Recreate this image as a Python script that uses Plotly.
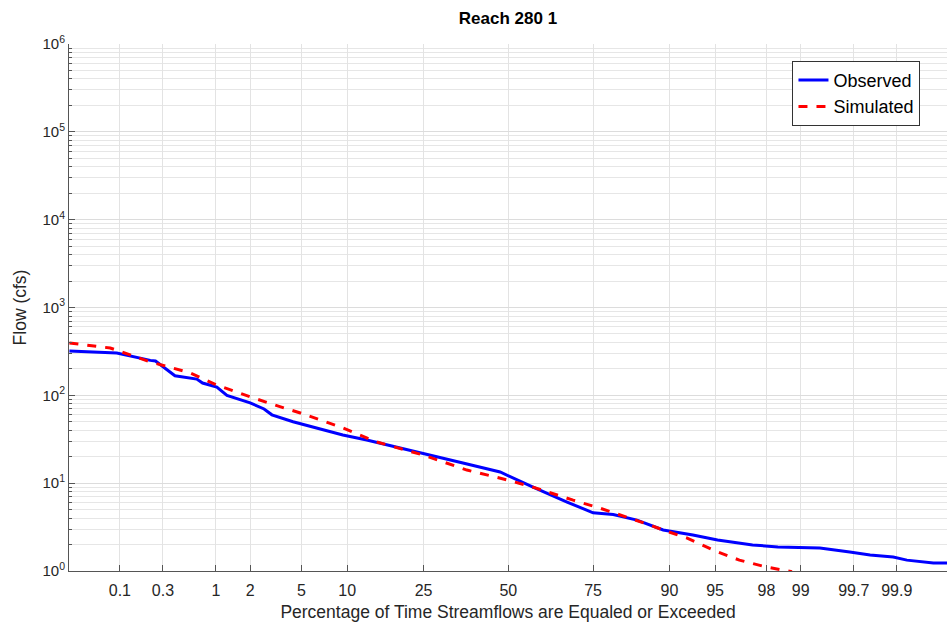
import plotly.graph_objects as go
from statistics import NormalDist

nd = NormalDist()

# Observed flow-duration curve (percent exceedance, flow cfs)
obs_pct = [0.024, 0.092, 0.22, 0.25, 0.40, 0.66, 0.75, 1.02, 1.26, 2.0, 2.6, 3.0, 4.34, 6.7,
           9.4, 13.0, 24.8, 35.9, 47.4, 57.8, 68.0, 75.0, 79.8, 84.7, 89.1, 92.9, 95.2,
           97.4, 98.4, 99.34, 99.67, 99.80, 99.89, 99.924, 99.964, 99.976]
obs_flow = [320, 303, 250, 246, 167, 153, 138, 124, 100, 82, 70, 60, 50, 41.5,
            35.3, 31, 22, 17, 13.4, 9.0, 6.1, 4.6, 4.4, 3.8, 2.93, 2.57, 2.25,
            1.98, 1.88, 1.83, 1.65, 1.52, 1.44, 1.33, 1.23, 1.23]

# Simulated flow-duration curve
sim_pct = [0.024, 0.077, 0.22, 0.57, 1.02, 2.0, 3.7, 4.9, 9.4, 14.8, 24.8, 37.1, 49.6,
           57.8, 69.7, 76.7, 87.0, 89.1, 92.2, 95.2, 96.7, 98.0, 98.8]
sim_flow = [394, 346, 240, 180, 131, 96, 72, 63, 42.5, 29.4, 21, 14.1, 10.9,
            9.0, 6.4, 5.2, 3.34, 2.93, 2.38, 1.65, 1.33, 1.11, 0.98]

x_tick_pct = [0.1, 0.3, 1, 2, 5, 10, 25, 50, 75, 90, 95, 98, 99, 99.7, 99.9]
x_tick_text = ["0.1", "0.3", "1", "2", "5", "10", "25", "50", "75", "90", "95", "98", "99", "99.7", "99.9"]

y_major = [1, 10, 100, 1000, 10000, 100000, 1000000]
y_major_text = ["10<sup>%d</sup>" % i for i in range(7)]
y_minor = [m * 10 ** k for k in range(6) for m in range(2, 10)]


def z(p):
    return nd.inv_cdf(p / 100.0)


fig = go.Figure()
fig.add_trace(go.Scatter(x=[z(p) for p in obs_pct], y=obs_flow, mode="lines", name="Observed",
                         line=dict(color="#0000ff", width=3)))
fig.add_trace(go.Scatter(x=[z(p) for p in sim_pct], y=sim_flow, mode="lines", name="Simulated",
                         line=dict(color="#ff0000", width=3, dash="dash")))

font = "Liberation Sans, Arial, sans-serif"
fig.update_layout(
    width=947, height=626,
    margin=dict(l=69, r=0, t=44, b=55),
    paper_bgcolor="white", plot_bgcolor="white",
    font=dict(family=font, color="#262626", size=14),
    title=dict(text="<b>Reach 280 1</b>", x=0.5, xref="paper", xanchor="center",
               y=1 - 18 / 626, yanchor="middle", font=dict(size=17, color="#000000")),
    showlegend=True,
    legend=dict(x=0.824, y=0.968, xanchor="left", yanchor="top",
                bgcolor="white", bordercolor="#333333", borderwidth=1,
                font=dict(size=18, color="#000000"), tracegroupgap=0),
)
fig.update_xaxes(
    range=[-3.495, 3.49],
    tickmode="array", tickvals=[z(p) for p in x_tick_pct], ticktext=x_tick_text,
    ticks="inside", ticklen=6, tickcolor="#555555",
    showline=True, linecolor="#555555", linewidth=1,
    showgrid=True, gridcolor="#e3e3e3", gridwidth=1, zeroline=False,
    tickfont=dict(size=16), ticklabelstandoff=5,
    title=dict(text="Percentage of Time Streamflows are Equaled or Exceeded",
               font=dict(size=17.5), standoff=7),
)
fig.update_yaxes(
    type="log", range=[0, 6],
    tickmode="array", tickvals=y_major, ticktext=y_major_text,
    ticks="inside", ticklen=6, tickcolor="#555555",
    showline=True, linecolor="#555555", linewidth=1,
    showgrid=True, gridcolor="#dcdcdc", gridwidth=1, zeroline=False,
    tickfont=dict(size=15),
    minor=dict(tickvals=y_minor, ticks="inside", ticklen=3, tickcolor="#555555",
               showgrid=True, gridcolor="#e6e6e6", griddash="solid", gridwidth=1),
    title=dict(text="Flow (cfs)", font=dict(size=17.5), standoff=11),
)

fig.write_html("out.html")
